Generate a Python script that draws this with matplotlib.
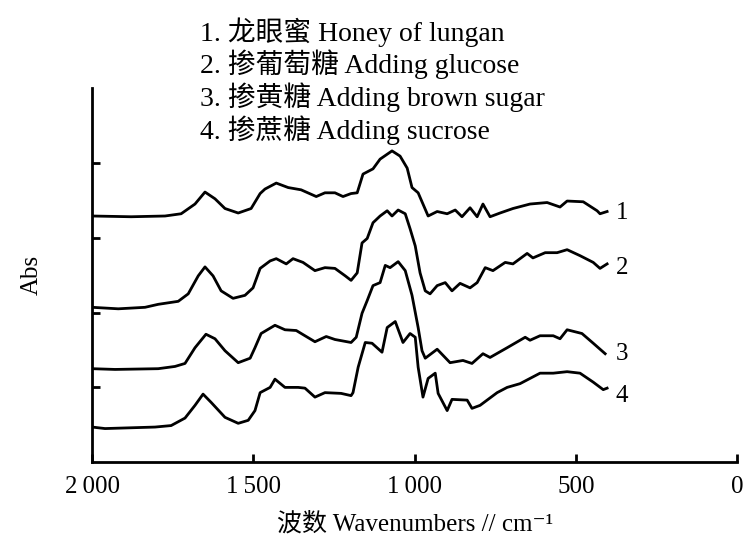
import numpy as np
import matplotlib
matplotlib.use("Agg")
import matplotlib.pyplot as plt

plt.rcParams['font.family'] = ['Liberation Serif', 'Noto Sans CJK SC', 'DejaVu Sans']

# Spectra (wavenumber in cm-1, offset absorbance)
wn1 = [2000, 1879, 1774, 1724, 1681, 1650, 1619, 1588, 1547, 1507, 1479, 1464, 1429,
       1392, 1352, 1305, 1278, 1247, 1222, 1197, 1178, 1160, 1129, 1107, 1070, 1045,
       1023, 1008, 989, 974, 958, 930, 899, 874, 853, 828, 806, 788, 766, 735, 695,
       642, 589, 549, 527, 477, 434, 425, 403]
abs1 = [3.29, 3.28, 3.29, 3.32, 3.45, 3.61, 3.52, 3.39, 3.33, 3.39, 3.59, 3.65, 3.73,
        3.67, 3.64, 3.55, 3.60, 3.60, 3.55, 3.59, 3.60, 3.85, 3.92, 4.05, 4.16, 4.09,
        3.93, 3.67, 3.60, 3.45, 3.29, 3.35, 3.32, 3.37, 3.28, 3.40, 3.28, 3.45, 3.28,
        3.33, 3.39, 3.45, 3.47, 3.41, 3.49, 3.48, 3.36, 3.32, 3.35]

wn2 = [2000, 1919, 1836, 1795, 1733, 1702, 1671, 1650, 1625, 1600, 1563, 1526, 1501,
       1479, 1448, 1429, 1398, 1377, 1346, 1309, 1278, 1247, 1215, 1197, 1178, 1163,
       1147, 1129, 1107, 1085, 1070, 1051, 1029, 1014, 998, 983, 967, 952, 930, 905,
       884, 859, 828, 806, 781, 757, 719, 695, 651, 633, 595, 558, 527, 487, 446,
       425, 403]
abs2 = [2.07, 2.05, 2.07, 2.11, 2.15, 2.25, 2.49, 2.61, 2.49, 2.29, 2.19, 2.23, 2.33,
        2.59, 2.69, 2.72, 2.65, 2.72, 2.67, 2.56, 2.60, 2.59, 2.49, 2.43, 2.53, 2.93,
        2.99, 3.20, 3.29, 3.36, 3.29, 3.37, 3.32, 3.12, 2.89, 2.53, 2.29, 2.25, 2.36,
        2.40, 2.29, 2.39, 2.33, 2.40, 2.60, 2.56, 2.67, 2.65, 2.79, 2.73, 2.80, 2.80,
        2.84, 2.76, 2.67, 2.59, 2.65]

wn3 = [2000, 1929, 1795, 1743, 1712, 1681, 1647, 1619, 1588, 1547, 1510, 1495, 1476,
       1433, 1402, 1367, 1340, 1309, 1274, 1247, 1197, 1181, 1163, 1147, 1129, 1107,
       1091, 1076, 1051, 1029, 1008, 989, 977, 967, 930, 890, 850, 822, 788, 766,
       713, 657, 642, 611, 570, 549, 527, 481, 446, 409]
abs3 = [1.25, 1.24, 1.25, 1.28, 1.32, 1.53, 1.71, 1.65, 1.49, 1.33, 1.39, 1.53, 1.72,
        1.83, 1.77, 1.76, 1.69, 1.61, 1.68, 1.64, 1.60, 1.67, 1.99, 2.16, 2.36, 2.40,
        2.63, 2.60, 2.68, 2.56, 2.23, 1.80, 1.49, 1.39, 1.51, 1.33, 1.36, 1.32, 1.45,
        1.40, 1.53, 1.67, 1.63, 1.69, 1.69, 1.65, 1.77, 1.72, 1.59, 1.45]

wn4 = [2000, 1960, 1805, 1755, 1712, 1681, 1656, 1631, 1588, 1547, 1516, 1495, 1479,
       1448, 1433, 1402, 1361, 1340, 1309, 1278, 1228, 1197, 1191, 1175, 1153, 1132,
       1101, 1085, 1060, 1036, 1014, 998, 989, 974, 958, 936, 927, 899, 884, 837,
       822, 797, 744, 713, 673, 611, 570, 527, 487, 446, 415, 403]
abs4 = [0.47, 0.45, 0.47, 0.49, 0.59, 0.76, 0.91, 0.80, 0.60, 0.52, 0.56, 0.69, 0.93,
        1.00, 1.11, 1.00, 1.00, 0.99, 0.87, 0.93, 0.92, 0.89, 0.93, 1.27, 1.60, 1.59,
        1.47, 1.80, 1.88, 1.60, 1.72, 1.67, 1.27, 0.87, 1.12, 1.19, 0.92, 0.69, 0.84,
        0.83, 0.72, 0.76, 0.93, 1.00, 1.05, 1.19, 1.19, 1.21, 1.19, 1.07, 0.97, 0.99]

curve_labels = ['1', '2', '3', '4']
label_y = [3.33, 2.59, 1.45, 0.88]
legend_lines = ['1. 龙眼蜜 Honey of lungan',
                '2. 掺葡萄糖 Adding glucose',
                '3. 掺黄糖 Adding brown sugar',
                '4. 掺蔗糖 Adding sucrose']
xticks = [2000, 1500, 1000, 500, 0]
xtick_labels = ['2\u2009000', '1\u2009500', '1\u2009000', '500', '0']

fig = plt.figure(figsize=(7.43, 5.40), dpi=100)
ax = fig.add_axes([0.124, 0.144, 0.868, 0.693])

for wn, ab in zip([wn1, wn2, wn3, wn4], [abs1, abs2, abs3, abs4]):
    ax.plot(wn, ab, color='black', linewidth=2.0)

for lab, yy in zip(curve_labels, label_y):
    ax.text(357, yy, lab, fontsize=18, ha='center', va='center')

ax.set_xlim(2000, 0)
ax.set_ylim(0, 5)
ax.set_xticks(xticks)
ax.set_xticklabels(xtick_labels, fontsize=18)
ax.set_yticks([1, 2, 3, 4])
ax.set_yticklabels([])
ax.tick_params(direction='in', length=6, width=2)
ax.tick_params(axis='x', pad=10)
for s in ['top', 'right']:
    ax.spines[s].set_visible(False)
for s in ['left', 'bottom']:
    ax.spines[s].set_linewidth(2)

ax.set_ylabel('Abs', fontsize=18, labelpad=32)
ax.set_xlabel('波数 Wavenumbers // cm\u207b\u00b9', fontsize=18, labelpad=10)

for i, line in enumerate(legend_lines):
    fig.text(0.269, 0.941 - i * 0.0605, line, fontsize=20, ha='left', va='center')

plt.savefig('out.png', dpi=100)
